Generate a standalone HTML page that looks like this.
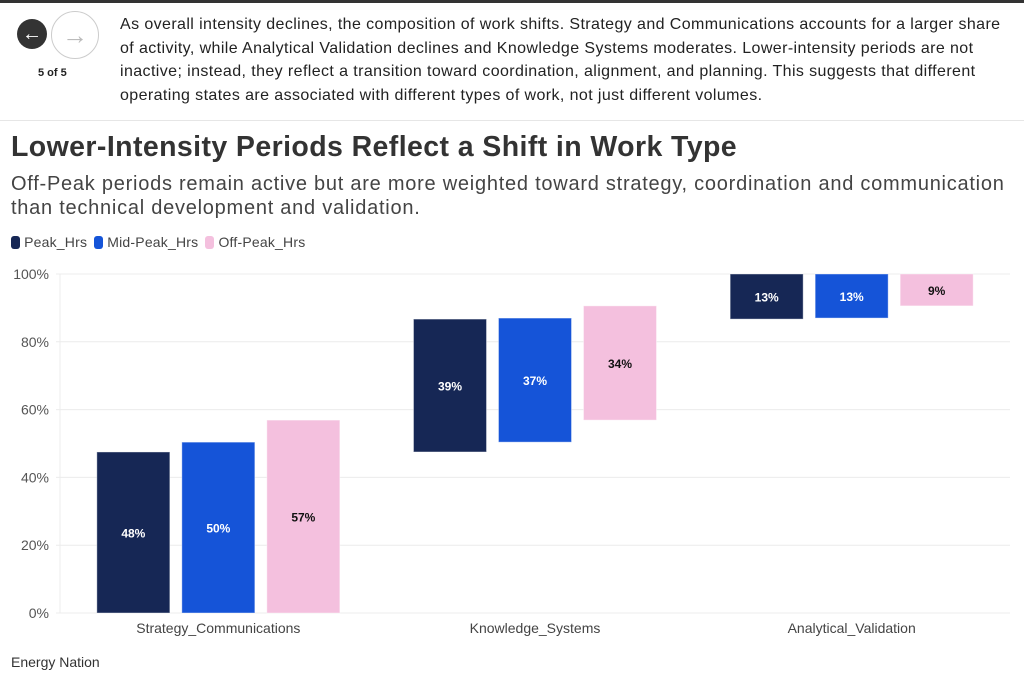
<!DOCTYPE html>
<html><head><meta charset="utf-8"><style>
body{margin:0;width:1024px;height:682px;background:#fff;font-family:"Liberation Sans",sans-serif;position:relative;overflow:hidden;color:#333}
.abs{position:absolute}
</style></head><body>
<div class="abs" style="left:0;top:0;width:1024px;height:3px;background:#333"></div>
<div class="abs" style="left:17px;top:19px;width:30px;height:30px;border-radius:50%;background:#333;color:#fff;font-size:20px;line-height:30px;text-align:center;font-weight:bold">&#8592;</div>
<div class="abs" style="left:51px;top:11px;width:46px;height:46px;border-radius:50%;border:1px solid #ccc;color:#bbb;font-size:26px;line-height:46px;text-align:center;font-weight:bold">&#8594;</div>
<div class="abs" style="left:38px;top:67px;font-size:11px;font-weight:bold;color:#222">5 of 5</div>
<div class="abs" style="left:120px;top:13px;white-space:nowrap;font-size:16px;letter-spacing:0.4px;line-height:23.5px;color:#222">As overall intensity declines, the composition of work shifts. Strategy and Communications accounts for a larger share<br>of activity, while Analytical Validation declines and Knowledge Systems moderates. Lower-intensity periods are not<br>inactive; instead, they reflect a transition toward coordination, alignment, and planning. This suggests that different<br>operating states are associated with different types of work, not just different volumes.</div>
<div class="abs" style="left:0;top:120px;width:1024px;height:1px;background:#e6e6e6"></div>
<div class="abs" style="left:11px;top:131px;font-size:28.5px;letter-spacing:0.4px;font-weight:bold;color:#333">Lower-Intensity Periods Reflect a Shift in Work Type</div>
<div class="abs" style="left:11px;top:172px;white-space:nowrap;font-size:20px;letter-spacing:0.75px;line-height:24px;color:#444">Off-Peak periods remain active but are more weighted toward strategy, coordination and communication<br>than technical development and validation.</div>
<div class="abs" style="left:11px;top:234px;font-size:14px;color:#444;display:flex;gap:7px;align-items:center;letter-spacing:0.2px">
<span><span style="display:inline-block;width:9px;height:13px;border-radius:3px;background:#162755;vertical-align:-2px"></span> Peak_Hrs</span>
<span><span style="display:inline-block;width:9px;height:13px;border-radius:3px;background:#1554d8;vertical-align:-2px"></span> Mid-Peak_Hrs</span>
<span><span style="display:inline-block;width:9px;height:13px;border-radius:3px;background:#f4c0de;vertical-align:-2px"></span> Off-Peak_Hrs</span>
</div>
<svg class="abs" style="left:0;top:0" width="1024" height="682" id="chart"></svg>
<div class="abs" style="left:11px;top:654px;font-size:14px;color:#333">Energy Nation</div>
<script>
const categories=["Strategy_Communications","Knowledge_Systems","Analytical_Validation"];
const seriesNames=["Peak_Hrs","Mid-Peak_Hrs","Off-Peak_Hrs"];
const peakValues=[47.5,39.2,13.3];
const midPeakValues=[50.4,36.6,13.0];
const offPeakValues=[56.9,33.7,9.4];
const yTicks=[0,20,40,60,80,100];
const colors=["#162755","#1554d8","#f4c0de"];
const labelColors=["#fff","#fff","#111"];
const series=[peakValues,midPeakValues,offPeakValues];
const svg=document.getElementById('chart');const NS="http://www.w3.org/2000/svg";
const x0=60,x1=1010,y0=613,y1=274;
const y=v=>y0-(v/100)*(y0-y1);
const band=(x1-x0)/categories.length;
const xc=i=>x0+band*(i+0.5);
function mk(t,a){const e=document.createElementNS(NS,t);for(const k in a)e.setAttribute(k,a[k]);svg.appendChild(e);return e;}
yTicks.forEach(t=>{
 const l=mk('line',{x1:x0-4,x2:x1,y1:y(t),y2:y(t),stroke:'#ececec'});
 
 
 const tx=mk('text',{x:49,y:y(t)+5,'text-anchor':'end','font-size':14,fill:'#555','font-family':'Liberation Sans'});
 tx.textContent=t+'%';
 
 
});
const ax=mk('line',{x1:x0,x2:x0,y1:y1,y2:y0,stroke:'#ececec'});


categories.forEach((c,i)=>{
 const tx=mk('text',{x:xc(i),y:633,'text-anchor':'middle','font-size':14,fill:'#444','font-family':'Liberation Sans'});
 tx.textContent=c;
 
 
});
const bw=73,step=85;
series.forEach((vals,s)=>{
 let cum=0;
 vals.forEach((v,i)=>{
  const b=cum,t=cum+v;cum=t;
  const cx=xc(i)+(s-1)*step;
  const r=mk('rect',{x:cx-bw/2,y:y(t),width:bw,height:y(b)-y(t),fill:colors[s],stroke:'rgba(255,255,255,0.4)'});
  
  
  const tx=mk('text',{x:cx,y:(y(t)+y(b))/2+5,'text-anchor':'middle','font-size':12,'font-weight':'bold',fill:labelColors[s],'font-family':'Liberation Sans'});
  tx.textContent=Math.round(v)+'%';
  
  
 });
});
</script>
</body></html>
